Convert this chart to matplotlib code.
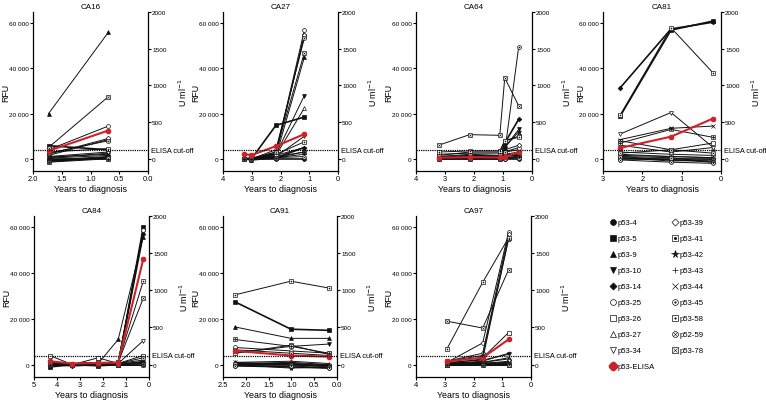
import matplotlib
matplotlib.use("Agg")
import matplotlib.pyplot as plt
from matplotlib.lines import Line2D
from matplotlib.ticker import FuncFormatter
import matplotlib.transforms as mtransforms

plt.rcParams['font.family'] = ['Liberation Sans', 'DejaVu Sans']
plt.rcParams['font.size'] = 5.5

SERIES = ['p53-4', 'p53-5', 'p53-9', 'p53-10', 'p53-14', 'p53-25', 'p53-26', 'p53-27',
          'p53-34', 'p53-39', 'p53-41', 'p53-42', 'p53-43', 'p53-44', 'p53-45', 'p53-58',
          'p52-59', 'p53-78']
ELISA_LABEL = 'p53-ELISA'
CUTOFF_U = 118  # U/ml

# ---------------- data (RFU per series, ELISA in U/ml) ----------------
CA16_X = [1.73, 0.69]
CA16_RFU = {
    'p53-4': [0, 0], 'p53-5': [5800, 4000], 'p53-9': [20000, 56000], 'p53-10': [-500, 1000],
    'p53-14': [-1000, 500], 'p53-25': [4000, 14500], 'p53-26': [1500, 8500], 'p53-27': [1000, 3000],
    'p53-34': [500, 2500], 'p53-39': [2000, 9000], 'p53-41': [-1500, 0], 'p53-42': [-800, 800],
    'p53-43': [300, 1500], 'p53-44': [800, 2000], 'p53-45': [2500, 8000], 'p53-58': [3000, 4500],
    'p52-59': [-1200, 200], 'p53-78': [5000, 27500]}
CA16_ELISA = [108, 385]

CA27_X = [3.28, 3.01, 2.16, 1.17]
CA27_RFU = {
    'p53-4': [0, 0, 0, 0], 'p53-5': [0, 0, 14800, 18500], 'p53-9': [0, -500, 1000, 45000],
    'p53-10': [0, 0, 2000, 28000], 'p53-14': [0, -500, 500, 5000], 'p53-25': [500, 0, 2500, 57000],
    'p53-26': [0, 0, 3000, 54500], 'p53-27': [0, 0, 1500, 22500], 'p53-34': [0, 0, 1000, 10000],
    'p53-39': [0, 500, 2000, 55000], 'p53-41': [0, 0, 500, 3000], 'p53-42': [0, 0, 1500, 5000],
    'p53-43': [0, 0, 500, 2000], 'p53-44': [0, 0, 1000, 3000], 'p53-45': [0, 0, 4000, 53500],
    'p53-58': [0, 0, 2000, 7500], 'p52-59': [0, 0, 500, 1000], 'p53-78': [0, 0, 3000, 47000]}
CA27_ELISA = [64, 50, 172, 336]

CA64_X = [3.22, 2.15, 1.11, 0.94, 0.46]
CA64_RFU = {
    'p53-4': [0, 0, 0, 0, 0], 'p53-5': [500, 500, 500, 2000, 1000], 'p53-9': [1000, 1500, 1000, 3000, 4000],
    'p53-10': [500, 1000, 500, 5000, 13000], 'p53-14': [0, 500, 500, 7000, 17500],
    'p53-25': [1000, 2000, 1500, 3000, 5000], 'p53-26': [1500, 3000, 3000, 8000, 10000],
    'p53-27': [500, 1000, 1000, 2000, 3000], 'p53-34': [0, 500, 500, 1500, 2000],
    'p53-39': [500, 1500, 1500, 4000, 6000], 'p53-41': [0, 0, 0, 500, 1000],
    'p53-42': [0, 500, 0, 5000, 12000], 'p53-43': [0, 0, 0, 500, 500], 'p53-44': [500, 500, 500, 1000, 1500],
    'p53-45': [2000, 2500, 2500, 3000, 49500], 'p53-58': [3000, 3500, 3500, 8000, 9500],
    'p52-59': [0, 0, 0, 0, 500], 'p53-78': [6000, 10700, 10400, 35800, 23500]}
CA64_ELISA = [15, 22, 18, 25, 93]

CA81_X = [2.56, 1.27, 0.2]
CA81_RFU = {
    'p53-4': [0, 0, 0], 'p53-5': [19000, 57000, 61000], 'p53-9': [1000, -500, -1000],
    'p53-10': [500, -1000, -500], 'p53-14': [31500, 57500, 60500], 'p53-25': [3000, 2000, 1500],
    'p53-26': [8000, 4000, 7000], 'p53-27': [6000, 3000, 5000], 'p53-34': [11000, 20500, 5000],
    'p53-39': [2000, 1000, 500], 'p53-41': [7000, 13000, 9500], 'p53-42': [500, -500, -1500],
    'p53-43': [1500, 1000, 500], 'p53-44': [8500, 13500, 14500], 'p53-45': [1000, 500, -1500],
    'p53-58': [19500, 58000, 38000], 'p52-59': [-500, -1500, -2000], 'p53-78': [2500, 4000, 2500]}
CA81_ELISA = [148, 302, 549]

CA84_X = [4.32, 3.33, 2.21, 1.34, 0.25]
CA84_RFU = {
    'p53-4': [0, 0, 0, 0, 0], 'p53-5': [-1000, 0, -500, 0, 60000], 'p53-9': [0, 0, 500, 11000, 56000],
    'p53-10': [0, 0, 0, 500, 58000], 'p53-14': [0, -500, 0, 500, 57000], 'p53-25': [500, 0, 500, 500, 59000],
    'p53-26': [4000, 0, 3000, 500, 4000], 'p53-27': [1000, 500, 1000, 500, 2000],
    'p53-34': [500, 0, 500, 500, 10500], 'p53-39': [0, 0, 0, 500, 1000], 'p53-41': [0, 0, 0, 0, 500],
    'p53-42': [0, 0, 0, 0, 1500], 'p53-43': [0, 0, 0, 0, 1000], 'p53-44': [0, 0, 0, 0, 0],
    'p53-45': [500, 0, 1000, 500, 3000], 'p53-58': [1000, 500, 1000, 1000, 36500],
    'p52-59': [0, 0, 0, 0, 500], 'p53-78': [500, 0, 500, 1000, 29000]}
CA84_ELISA = [46, 15, 22, 28, 1420]

CA91_X = [2.24, 1.01, 0.18]
CA91_RFU = {
    'p53-4': [0, 0, -500], 'p53-5': [27500, 15500, 15000], 'p53-9': [16500, 11500, 11500],
    'p53-10': [5000, 8000, 9000], 'p53-14': [-500, -1000, -1500], 'p53-25': [7500, 6000, 5000],
    'p53-26': [5000, 8500, 4500], 'p53-27': [1000, 1500, 500], 'p53-34': [500, 500, -500],
    'p53-39': [0, 500, 0], 'p53-41': [11000, 8000, 5000], 'p53-42': [0, -1500, -1000],
    'p53-43': [500, 1000, 0], 'p53-44': [1000, 0, -500], 'p53-45': [500, 0, -1000],
    'p53-58': [30500, 36500, 33500], 'p52-59': [-500, -500, -1500], 'p53-78': [6500, 5000, 4000]}
CA91_ELISA = [185, 123, 108]

CA97_X = [2.92, 1.68, 0.78]
CA97_RFU = {
    'p53-4': [0, 0, 0], 'p53-5': [0, 500, 0], 'p53-9': [500, 1000, 3000], 'p53-10': [1000, 2000, 4500],
    'p53-14': [0, 500, 500], 'p53-25': [1000, 9500, 58000], 'p53-26': [1500, 3000, 14000],
    'p53-27': [500, 1000, 2500], 'p53-34': [0, 500, 1500], 'p53-39': [1500, 5000, 57000],
    'p53-41': [0, 0, 500], 'p53-42': [1500, 4000, 55000], 'p53-43': [500, 1500, 5000],
    'p53-44': [0, 500, 1000], 'p53-45': [500, 2500, 55000], 'p53-58': [7000, 36000, 55500],
    'p52-59': [0, 0, 0], 'p53-78': [19000, 16000, 41500]}
CA97_ELISA = [46, 93, 340]

PANELS = [
    ('CA16', CA16_X, CA16_RFU, CA16_ELISA, 2.0, [2.0, 1.5, 1.0, 0.5, 0.0], True),
    ('CA27', CA27_X, CA27_RFU, CA27_ELISA, 4, [4, 3, 2, 1, 0], False),
    ('CA64', CA64_X, CA64_RFU, CA64_ELISA, 4, [4, 3, 2, 1, 0], False),
    ('CA81', CA81_X, CA81_RFU, CA81_ELISA, 3, [3, 2, 1, 0], False),
    ('CA84', CA84_X, CA84_RFU, CA84_ELISA, 5, [5, 4, 3, 2, 1, 0], False),
    ('CA91', CA91_X, CA91_RFU, CA91_ELISA, 2.5, [2.5, 2.0, 1.5, 1.0, 0.5, 0.0], True),
    ('CA97', CA97_X, CA97_RFU, CA97_ELISA, 4, [4, 3, 2, 1, 0], False),
]

# ---------------- styles ----------------
K = '#111111'
RED = '#cc2229'
STYLE = {
    'p53-4': ('o', K, None), 'p53-5': ('s', K, None), 'p53-9': ('^', K, None),
    'p53-10': ('v', K, None), 'p53-14': ('D', K, None), 'p53-25': ('o', 'white', None),
    'p53-26': ('s', 'white', None), 'p53-27': ('^', 'white', None), 'p53-34': ('v', 'white', None),
    'p53-39': ('D', 'white', None), 'p53-41': ('s', 'white', (6, 2, 0)), 'p53-42': ('*', K, None),
    'p53-43': ('+', K, None), 'p53-44': ('x', K, None), 'p53-45': ('o', 'white', '.'),
    'p53-58': ('s', 'white', '.'), 'p52-59': ('o', 'white', 'x'), 'p53-78': ('s', 'white', 'x'),
}
SIZE = {'D': 2.4, '*': 3.6, '+': 3.2, 'x': 2.8}

W, H = 766, 402
AX_PIX = [  # left, right, top, bottom in pixels, RFU label offset, xlabel centre y
    (33, 148, 13, 172, -23, 190), (223, 338, 13, 172, -23, 190), (416, 532, 13, 172, -23, 190),
    (603, 721, 13, 172, -18, 190),
    (34, 149, 217, 378, -23, 396), (223, 337, 217, 378, -23, 396), (416, 531, 217, 378, -23, 396),
]
YL = (-5400, 65000)
RATIO = 32.5
TICK_FS = 4.6
LABEL_FS = 6.4

fig = plt.figure(figsize=(W / 100, H / 100), dpi=100)
thousands = FuncFormatter(lambda v, p: f'{int(v):,}'.replace(',', ' '))


def marker_kw(name, ms_scale=1.0):
    m, fc, inner = STYLE[name]
    ms = SIZE.get(m, 2.8) * ms_scale
    return m, fc, inner, ms


for (title, xs, rfu, elisa, xmax, xt, dec), (l, r, t, b, roff, xly) in zip(PANELS, AX_PIX):
    ax = fig.add_axes([l / W, 1 - b / H, (r - l) / W, (b - t) / H])
    ax2 = ax.twinx()
    ax.set_xlim(xmax, 0)
    ax.set_ylim(*YL)
    ax2.set_ylim(YL[0] / RATIO, YL[1] / RATIO)
    for name in SERIES:
        m, fc, inner, ms = marker_kw(name)
        lw = 1.2 if name in ('p53-4', 'p53-5', 'p53-14') else 0.7
        ax.plot(xs, rfu[name], color=K, lw=lw, marker=m, mfc=fc, mec=K, mew=0.5, ms=ms,
                clip_on=False, zorder=3)
        if inner is not None:
            ax.plot(xs, rfu[name], ls='none', marker=inner, color=K, ms=1.6, mew=0.4,
                    clip_on=False, zorder=4)
    ax2.plot(xs, elisa, color=RED, lw=1.5, marker='8', ms=3.8, mfc=RED, mec=RED,
             clip_on=False, zorder=5)
    ax2.axhline(CUTOFF_U, color='k', ls=(0, (1, 0.8)), lw=0.9, zorder=6, clip_on=False)
    trans = mtransforms.blended_transform_factory(ax2.transAxes, ax2.transData)
    ax2.text(1.025, CUTOFF_U, 'ELISA cut-off', transform=trans, va='center', ha='left',
             fontsize=5.3)

    ax.set_xticks(xt)
    if dec:
        ax.set_xticklabels([f'{v:.1f}' for v in xt])
    else:
        ax.set_xticklabels([str(v) for v in xt])
    ax.set_yticks([0, 20000, 40000, 60000])
    ax.yaxis.set_major_formatter(thousands)
    ax2.set_yticks([0, 500, 1000, 1500, 2000])

    for a in (ax, ax2):
        a.spines['top'].set_visible(False)
        a.tick_params(length=2, width=0.8, pad=1, labelsize=TICK_FS)
        a.set_facecolor('none')
    ax.tick_params(axis='x', labelsize=5.4, pad=1.2)
    ax.spines['right'].set_visible(False)
    ax2.spines['left'].set_visible(False)
    ax2.spines['bottom'].set_visible(False)
    for s in ('left', 'bottom'):
        ax.spines[s].set_linewidth(0.9)
    ax2.spines['right'].set_linewidth(0.9)

    ax.set_title(title, fontsize=5.8, pad=3)
    ax.set_xlabel('Years to diagnosis', fontsize=LABEL_FS, va='center')
    ax.set_ylabel('RFU', fontsize=LABEL_FS)
    ax2.set_ylabel('U ml$^{-1}$', fontsize=LABEL_FS)
    wpx, hpx = r - l, b - t
    ax.yaxis.set_label_coords(roff / wpx, 0.5)
    ax2.yaxis.set_label_coords(1 + 29 / wpx, 0.5)
    ax.xaxis.set_label_coords(0.5, -(xly - b) / hpx)

# ---------------- legend ----------------
handles = []
labels = []
order = SERIES[:9] + [ELISA_LABEL] + SERIES[9:]
for name in order:
    if name == ELISA_LABEL:
        h = Line2D([], [], ls='none', marker='8', ms=5.5, mfc=RED, mec=RED)
    else:
        m, fc, inner, ms = marker_kw(name, 1.5)
        base = Line2D([], [], ls='none', marker=m, mfc=fc, mec=K, color=K, mew=0.5, ms=ms)
        if inner is not None:
            h = (base, Line2D([], [], ls='none', marker=inner, color=K, ms=2.2, mew=0.4))
        else:
            h = base
    handles.append(h)
    labels.append(name)

fig.legend(handles, labels, ncol=2, loc='upper left', bbox_to_anchor=(610 / W, 1 - 220 / H),
           frameon=False, fontsize=5.6, handlelength=0.8, handletextpad=0.2,
           labelspacing=1.1, columnspacing=2.2, borderpad=0, borderaxespad=0)

fig.savefig('out.png', dpi=100)
